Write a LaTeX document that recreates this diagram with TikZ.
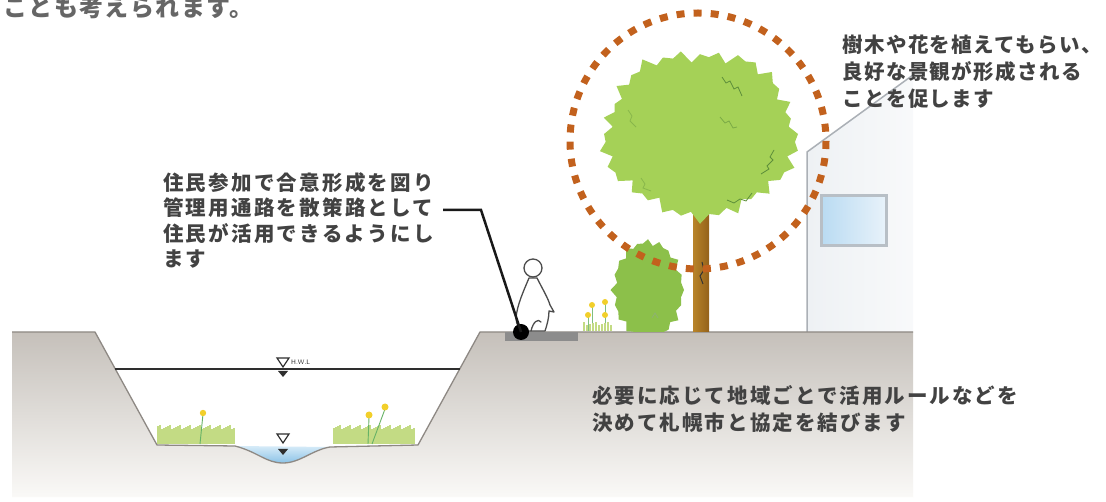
\documentclass[tikz,border=0pt]{standalone}
\usepackage{fontspec}
\newfontfamily\jp{Noto Sans CJK JP}
\definecolor{groundtop}{HTML}{C5C0BA}
\definecolor{groundbot}{HTML}{FAF9F7}
\definecolor{edgec}{HTML}{8E8984}
\definecolor{leaf}{HTML}{A5D157}
\definecolor{leafdark}{HTML}{5E8F3A}
\definecolor{bushc}{HTML}{8CC04A}
\definecolor{trunkl}{HTML}{B8842A}
\definecolor{trunkr}{HTML}{94621A}
\definecolor{dotc}{HTML}{C2611D}
\definecolor{txt}{HTML}{424242}
\definecolor{toptxt}{HTML}{666666}
\definecolor{grassc}{HTML}{C3DB84}
\definecolor{flowerc}{HTML}{F2CF2A}
\definecolor{waterl}{HTML}{D6EBF8}
\definecolor{waterd}{HTML}{8CC3E7}
\definecolor{housec}{HTML}{EEF1F4}
\definecolor{housel}{HTML}{ABB0B6}
\definecolor{winl}{HTML}{B9DBF2}
\definecolor{winr}{HTML}{E8F2FA}
\definecolor{winb}{HTML}{B8BFC6}
\definecolor{pathc}{HTML}{8C8C8C}
\definecolor{markc}{HTML}{2E2E2E}
\begin{document}
\begin{tikzpicture}[x=1pt,y=-1pt,
  jptext/.style={inner sep=0pt, anchor=north west, align=left, text=txt},
  treetext/.style={jptext, font=\jp\bfseries\addfontfeature{LetterSpace=7}\fontsize{20.5}{27}\selectfont},
  ruletext/.style={jptext, font=\jp\bfseries\addfontfeature{LetterSpace=11}\fontsize{20.5}{25.5}\selectfont},
  bottomtext/.style={jptext, font=\jp\bfseries\addfontfeature{LetterSpace=10}\fontsize{20.5}{27}\selectfont},
  leader/.style={line width=2.5pt, draw=black!90},
  person/.style={draw=black!70, line width=1.3pt, line join=round, line cap=round},
  squig/.style={draw=leafdark, line width=0.8pt},
  grassline/.style={draw=grassc, line width=1.1pt},
  wlmark/.style={draw=markc, line width=1.2pt, fill=white},
  wlfill/.style={fill=markc}]
\useasboundingbox (0,0) rectangle (1106,502);
\fill[white] (0,0) rectangle (1106,502);

% ---- house behind the tree ----
\shade[left color=housec, right color=white!60!housec] (807,332) -- (807,152) -- (913,75) -- (913,332) -- cycle;
\draw[housel, line width=1.5pt] (807,332) -- (807,152) -- (913,75);
\draw[winb, line width=3pt, left color=winl, right color=winr] (821,196) rectangle (886,246);

% ---- ground cross-section with the river channel ----
\shade[top color=groundtop, bottom color=groundbot]
  (12,332) -- (95,332) -- (157,445) -- (235,446)
  .. controls (258,452) and (266,463) .. (283,463)
  .. controls (300,463) and (312,450) .. (330,447)
  -- (418,445) -- (480,332) -- (913,332) -- (913,497) -- (12,497) -- cycle;
% low-water stream
\shade[top color=waterl, bottom color=waterd]
  (235,446) .. controls (258,452) and (266,463) .. (283,463)
  .. controls (300,463) and (312,450) .. (330,447) -- cycle;
\draw[edgec, line width=1.3pt, line join=round]
  (12,332) -- (95,332) -- (157,445) -- (235,446)
  .. controls (258,452) and (266,463) .. (283,463)
  .. controls (300,463) and (312,450) .. (330,447)
  -- (418,445) -- (480,332) -- (913,332);
% maintenance path on the bank
\fill[pathc] (505,332) rectangle (578,341);

% ---- grass on the channel floor ----
\foreach \x in {158,160,...,234} {
  \draw[grassline] (\x,444) -- (\x,{425+mod(\x*7,5)});
}
\foreach \x in {334,336,...,414} {
  \draw[grassline] (\x,444) -- (\x,{425+mod(\x*7,5)});
}
\draw[green!50!black!60, line width=0.9pt] (200,444) -- (203,414);
\fill[flowerc] (203,413) circle[radius=3.2];
\draw[green!50!black!60, line width=0.9pt] (368,444) -- (369,417);
\draw[green!50!black!60, line width=0.9pt] (372,444) -- (385,409);
\fill[flowerc] (369,415) circle[radius=3.5];
\fill[flowerc] (385,407) circle[radius=3.5];

% ---- water level marks ----
\draw[markc, line width=1.8pt] (115,369) -- (460,369);
\draw[wlmark] (277,358) -- (289,358) -- (283,367) -- cycle;
\fill[wlfill] (278,371) -- (288,371) -- (283,377) -- cycle;
\node[inner sep=0pt, anchor=west, font=\sffamily\fontsize{6.5}{6.5}\selectfont, text=markc] (hwl) at (291,362) {H.W.L};
\draw[wlmark] (277,434) -- (289,434) -- (283,443) -- cycle;
\fill[wlfill] (278,449) -- (288,449) -- (283,455) -- cycle;

% ---- flowers beside the path ----
\foreach \x/\y in {588/315, 592/305, 605/302, 605/315} {
  \draw[green!50!black!50, line width=0.8pt] (\x,331) -- (\x,\y);
  \fill[flowerc] (\x,\y) circle[radius=3];
}
\foreach \x in {584,587,...,612} {
  \draw[grassline] (\x,331) -- (\x,{322+mod(\x*5,4)});
}

% ---- shrub ----
\begin{scope}
  \clip (0,0) rectangle (1106,332);
  \fill[bushc] (684,290) \foreach \i in {1,...,39} {
    -- ({648+(36-4*mod(\i,2)+1.5*sin(\i*113))*cos(\i*9)},
        {290+(50-4*mod(\i,2)+1.5*sin(\i*113))*sin(\i*9)}) } -- cycle;
\end{scope}
\draw[leafdark!70, line width=0.7pt] (652,318) -- (655,313) -- (658,318);

% ---- tree ----
\shade[left color=trunkl, right color=trunkr] (693,205) rectangle (709,332);
\draw[black!80, line width=1pt] (702,262) -- (704,270) -- (700,276) -- (703,284);
\fill[leaf] (798,134) \foreach \i in {1,...,63} {
  -- ({700+(98-7*mod(\i,2)+3*sin(\i*97)+3*sin(\i*28.125))*cos(\i*5.625)},
      {134+(84-7*mod(\i,2)+3*sin(\i*97)+3*sin(\i*28.125))*sin(\i*5.625)}) } -- cycle;
\draw[squig] (722,77) -- (726,83) -- (730,81) -- (734,89) -- (738,87) -- (742,96);
\draw[squig, opacity=0.6] (720,117) -- (725,123) -- (729,121) -- (733,128) -- (737,127);
\draw[squig] (774,150) -- (770,157) -- (773,160) -- (767,166) -- (769,169) -- (761,174);
\draw[squig] (727,200) -- (734,203) -- (740,199) -- (746,201) -- (752,193);
\draw[squig, opacity=0.4] (628,110) -- (632,116) -- (630,121) -- (636,127);
\draw[squig, opacity=0.4] (641,178) -- (645,184) -- (643,188) -- (651,191);

% ---- walker on the path ----
\filldraw[person, fill=white] (529,278) .. controls (524,290) and (517,305) .. (516,318)
  .. controls (516,325) and (520,330) .. (524,331) -- (545,331)
  .. controls (547,325) and (549,318) .. (549,311) -- (554,312) -- (550,305)
  .. controls (548,298) and (542,288) .. (537,278) -- cycle;
\draw[person] (531,331) .. controls (533,322) and (538,318) .. (541,322);
\filldraw[person, fill=white] (533,268) circle[radius=9];

% ---- captions ----
\node[ruletext] (usage) at (163,172) {住民参加で合意形成を図り\\管理用通路を散策路として\\住民が活用できるようにし\\ます};
\node[treetext] (trees) at (842,35) {樹木や花を植えてもらい、\\良好な景観が形成される\\ことを促します};
\node[bottomtext] (rules) at (592,385) {必要に応じて地域ごとで活用ルールなどを\\決めて札幌市と協定を結びます};
\node[inner sep=0pt, anchor=north west, text=toptxt,
  font=\jp\bfseries\addfontfeature{LetterSpace=6}\fontsize{24}{28}\selectfont] (intro) at (3,-4) {ことも考えられます。};

% ---- leader from the path caption to the path ----
\node[circle, fill=black, minimum size=16pt, inner sep=0pt] (dot) at (521,332) {};
\coordinate (lstart) at (443,210);
\coordinate (lbend) at (481,210);
\draw[leader] (lstart) -- (lbend) -- (dot.center);

% ---- dotted ring around the tree ----
\draw[dotc, line width=7pt, dash pattern=on 8pt off 9.11pt] (698,141) circle[radius=128];
\end{tikzpicture}
\end{document}
